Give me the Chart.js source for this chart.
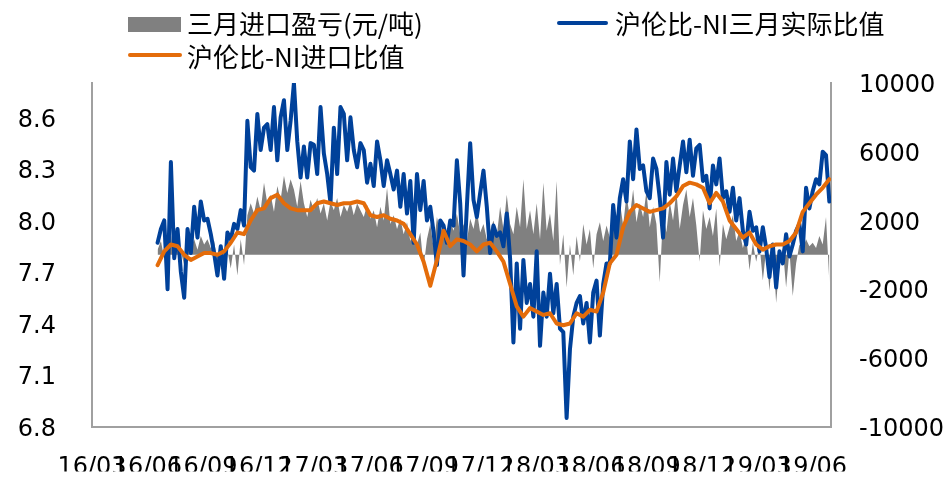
<!DOCTYPE html>
<html>
<head>
<meta charset="utf-8">
<script src="https://cdn.jsdelivr.net/npm/chart.js@4.4.1/dist/chart.umd.min.js"></script>
<style>
  body { margin: 0; background: #fff; }
  #wrap { position: relative; width: 948px; height: 477px; overflow: hidden; }
  #chart { position: absolute; left: 0; top: 0; }
  .lg { position: absolute; font-family: "Noto Sans CJK SC", sans-serif; font-size: 26px; line-height: 30px; color: #000; white-space: nowrap; }
  .sw { position: absolute; }
</style>
</head>
<body>
<div id="wrap">
  <canvas id="chart" width="948" height="477"></canvas>
  <div class="sw" style="left:128px;top:17px;width:53px;height:15px;background:#808080;"></div>
  <div class="lg" style="left:187px;top:8px;">三月进口盈亏(元/吨)</div>
  <div class="sw" style="left:128px;top:53px;width:54px;height:4px;border-radius:2px;background:#E46C0A;"></div>
  <div class="lg" style="left:187px;top:41px;">沪伦比-NI进口比值</div>
  <div class="sw" style="left:557px;top:21px;width:51px;height:4px;border-radius:2px;background:#00419A;"></div>
  <div class="lg" style="left:615px;top:8px;">沪伦比-NI三月实际比值</div>
</div>
<script>
// x runs in months counted from 2016-03
const monthStart = 3.55;
const dailyStep = 0.18;
const ratioStep = 0.36;

const xTickMonths = [0, 3, 6, 9, 12, 15, 18, 21, 24, 27, 30, 33, 36, 39];
const xTickLabels = ["16/03", "16/06", "16/09", "16/12", "17/03", "17/06", "17/09",
                     "17/12", "18/03", "18/06", "18/09", "18/12", "19/03", "19/06"];
const leftTicks = [6.8, 7.1, 7.4, 7.7, 8.0, 8.3, 8.6];
const rightTicks = [-10000, -6000, -2000, 2000, 6000, 10000];

// 三月进口盈亏(元/吨)
const importProfit = [
  300, 800, -200, 600, 1200, -300, 500, 200, -600, 700, 400, 900, 300, 1100, 600, 900, 400, 800, -400, 500,
  -1000, 300, -800, 600, -1200, 900, -600,
  2300, 3000, 2400, 3400, 2600, 4200, 3000, 3500, 2500, 4000, 3200, 4600, 3600, 4400, 3800, 2800, 4300, 3000, 2200,
  3200, 2600, 3300, 2400, 3000, 2000,
  3100, 2600, 3300, 2200, 2900, 2500, 3100, 2300, 3000, 2600, 2200, 2900, 2100, 2600, 1600, 2800, 2000, 3900, 1800, 2300,
  1500, 2100, 1200, 1900, 800, 1400, 600, 1300, -700, 900, 1800, 400, 2200, 1300, 1700, 900, 2000, 1400, 2400, 1200,
  1800, 800, 2100, 1500, 2600, 1300, 1800, 900, 1400, 2000, 1100, 2800, 1500, 3500, 1800, 1200,
  2800, 1600, 4400, 1500, 2600, 1200, 3000, 900, 4200, 1400, 2400, 800, 4300, -600, 1200, -1900, 600, -1200, 1100, -400,
  1800, 600, 1500, -800, 1200, 1900, 800, 1700, 1000, 2600, 1400, 3100, 1700, 3500, 2200, 3800, 1900, 3000, 2200, 3700,
  1600, 2800, 1800, -1600, 2400, 1300, 3100, 2000, 3700, 1500, 2900, 3800, 2200, 3300, 1700, -400, 2600, 1500, 2200, 1100,
  2700, -700, 1800, 900, 1600, 2300, 800, 1400, 400, 1100, -900, 700, -400, 600, -1500, 300, -2100, 500, -2800, -600,
  400, -1900, 200, -2400, -500, 600, 300, 900, 500, 700, 400, 1100, 600, 2200, -1600
];

// 沪伦比-NI三月实际比值
const actualRatio = [
  7.87, 7.95, 8.00, 7.60, 8.34, 7.78, 7.95, 7.70, 7.55, 7.95, 7.81, 8.08, 7.90, 8.11, 8.00, 8.01, 7.92, 7.81, 7.68, 7.85,
  7.66, 7.93, 7.89, 7.98, 7.95, 8.06, 7.97, 8.58, 8.31, 8.29, 8.62, 8.41, 8.54, 8.56, 8.41, 8.66, 8.35, 8.60, 8.70, 8.41,
  8.58, 8.80, 8.46, 8.25, 8.43, 8.25, 8.45, 8.44, 8.27, 8.66, 8.39, 8.27,
  8.10, 8.54, 8.27, 8.66, 8.62, 8.35, 8.60, 8.41, 8.31, 8.45, 8.41, 8.22, 8.33, 8.20, 8.46, 8.35, 8.20, 8.35, 8.27, 8.18,
  8.29, 8.08, 8.27, 8.04, 8.23, 7.87, 8.27, 8.06, 8.23, 8.00, 8.08, 7.93, 7.74, 8.00, 7.97, 7.87, 8.00, 7.97, 8.35, 8.10,
  7.68, 8.08, 8.45, 8.12, 8.02, 8.16, 8.29, 8.08, 7.81, 7.97, 7.91, 7.93, 7.85, 8.04, 7.78, 7.29,
  7.75, 7.37, 7.77, 7.52, 7.63, 7.44, 7.82, 7.27, 7.58, 7.44, 7.69, 7.46, 7.63, 7.37, 7.35, 6.85, 7.25, 7.44, 7.52, 7.56,
  7.40, 7.52, 7.29, 7.58, 7.65, 7.33, 7.63, 7.75, 7.75, 8.09, 7.90, 8.13, 8.24, 8.11, 8.46, 8.24, 8.53, 8.30, 8.32, 8.17,
  8.13, 8.36, 8.30, 8.13, 7.90, 8.34, 8.15, 8.36, 8.17, 8.32, 8.46, 8.28, 8.47, 8.26, 8.42, 8.44, 8.23, 8.26, 8.07, 8.32,
  8.21, 8.36, 8.13, 8.17, 8.05, 8.19, 8.00, 8.13, 7.94, 7.86, 8.05, 7.94, 7.96, 7.82, 7.96, 7.84, 7.67, 7.86, 7.61, 7.82,
  7.75, 7.92, 7.79, 7.86, 7.94, 7.98, 7.82, 8.19, 8.07, 8.17, 8.24, 8.21, 8.40, 8.38, 8.11
];

// 沪伦比-NI进口比值
const importRatio = [
  7.74, 7.82, 7.86, 7.85, 7.80, 7.77, 7.79, 7.81, 7.81, 7.80, 7.82, 7.87, 7.93, 7.92, 8.00, 8.06, 8.07, 8.13, 8.15, 8.10,
  8.07, 8.06, 8.06, 8.06, 8.10, 8.11,
  8.10, 8.09, 8.10, 8.10, 8.11, 8.10, 8.03, 8.02, 8.03, 8.01, 8.00, 7.98, 7.92, 7.86, 7.76, 7.62, 7.77, 7.94, 7.85, 7.89,
  7.88, 7.86, 7.82, 7.86, 7.87, 7.82, 7.76, 7.63,
  7.50, 7.44, 7.49, 7.47, 7.45, 7.46, 7.40, 7.39, 7.40, 7.46, 7.44, 7.48, 7.47, 7.58, 7.75, 7.80, 7.96, 8.05, 8.09, 8.07,
  8.05, 8.06, 8.07, 8.10, 8.14, 8.20, 8.22, 8.21, 8.19, 8.10, 8.16, 8.11, 8.00, 7.95, 7.90, 7.93, 7.86, 7.83, 7.85, 7.86,
  7.86, 7.88, 7.93, 8.05, 8.10, 8.15, 8.19, 8.24
];

const toPoints = (values, step) => values.map((v, i) => ({ x: monthStart + i * step, y: v }));

Chart.defaults.font.family = "DejaVu Sans";
Chart.defaults.font.size = 24;
Chart.defaults.color = "#000";

const axisBorder = { display: true, color: "#a0a0a0", width: 2 };

new Chart(document.getElementById("chart").getContext("2d"), {
  type: "line",
  data: {
    datasets: [
      {
        label: "沪伦比-NI进口比值",
        data: toPoints(importRatio, ratioStep),
        yAxisID: "y",
        borderColor: "#E46C0A",
        borderWidth: 4,
        borderJoinStyle: "round",
        borderCapStyle: "round",
        pointRadius: 0,
        order: 0
      },
      {
        label: "沪伦比-NI三月实际比值",
        data: toPoints(actualRatio, dailyStep),
        yAxisID: "y",
        borderColor: "#00419A",
        borderWidth: 4,
        borderJoinStyle: "round",
        borderCapStyle: "round",
        pointRadius: 0,
        order: 1
      },
      {
        label: "三月进口盈亏(元/吨)",
        data: toPoints(importProfit, dailyStep),
        yAxisID: "y2",
        borderWidth: 0,
        backgroundColor: "#808080",
        fill: "origin",
        pointRadius: 0,
        order: 2
      }
    ]
  },
  options: {
    responsive: false,
    animation: false,
    layout: { padding: { top: 83, left: 0, right: 0, bottom: 0 } },
    plugins: { legend: { display: false }, tooltip: { enabled: false } },
    scales: {
      x: {
        type: "linear",
        min: 0,
        max: 40,
        grid: { display: false, drawTicks: false },
        border: axisBorder,
        afterBuildTicks: s => { s.ticks = xTickMonths.map(v => ({ value: v })); },
        afterFit: s => { s.height = 45; },
        ticks: {
          autoSkip: false,
          maxRotation: 0,
          minRotation: 0,
          padding: 27,
          callback: v => xTickLabels[xTickMonths.indexOf(v)]
        }
      },
      y: {
        position: "left",
        min: 6.8,
        max: 8.8,
        grid: { display: false, drawTicks: false },
        border: axisBorder,
        afterBuildTicks: s => { s.ticks = leftTicks.map(v => ({ value: v })); },
        afterFit: s => { s.width = 92; },
        ticks: { padding: 36, labelOffset: 3, callback: v => v.toFixed(1) }
      },
      y2: {
        position: "right",
        min: -10000,
        max: 10000,
        grid: { display: false, drawTicks: false },
        border: axisBorder,
        afterBuildTicks: s => { s.ticks = rightTicks.map(v => ({ value: v })); },
        afterFit: s => { s.width = 117; },
        ticks: { padding: 28, labelOffset: 3, callback: v => String(v) }
      }
    }
  }
});
</script>
</body>
</html>
